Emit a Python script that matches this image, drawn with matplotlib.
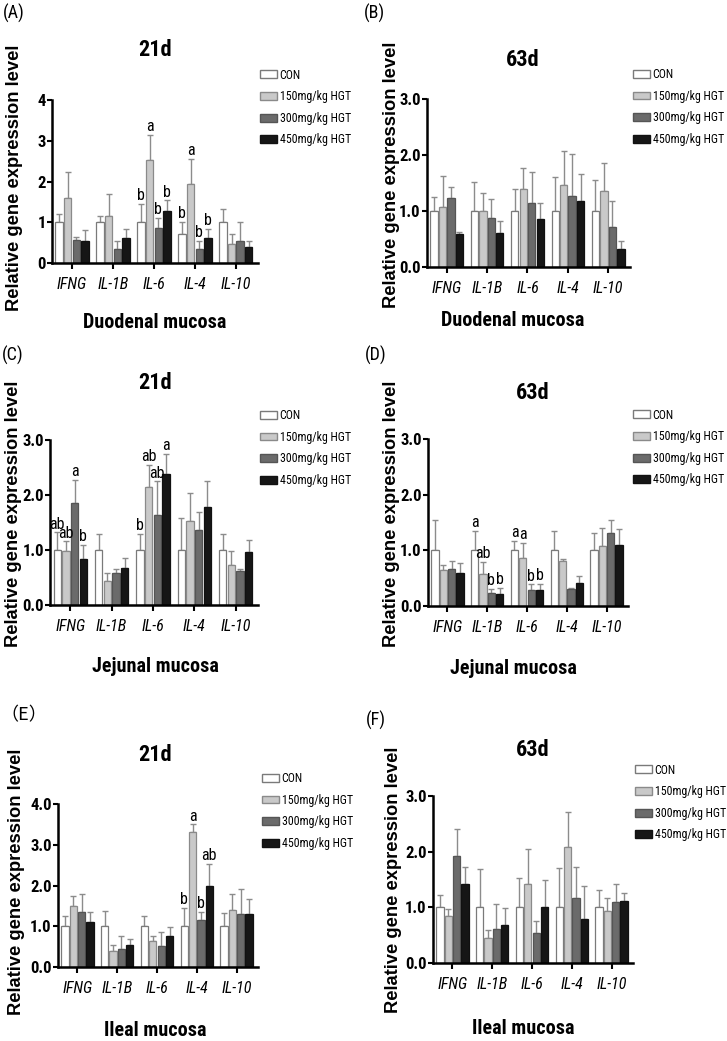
import matplotlib
matplotlib.use("Agg")
import matplotlib.pyplot as plt
from matplotlib import font_manager as fm
from matplotlib.patches import Patch
import numpy as np

W, H = 727, 1041

genes = ["IFNG", "IL-1B", "IL-6", "IL-4", "IL-10"]
groups = ["CON", "150mg/kg HGT", "300mg/kg HGT", "450mg/kg HGT"]

# rows = genes, cols = groups; *_top = top of the error bar
A_mean = [[1.00, 1.60, 0.57, 0.54], [1.00, 1.16, 0.35, 0.62], [1.00, 2.53, 0.85, 1.28],
          [0.72, 1.95, 0.35, 0.62], [1.00, 0.47, 0.55, 0.39]]
A_top = [[1.21, 2.23, 0.64, 0.81], [1.16, 1.69, 0.54, 0.83], [1.45, 3.15, 1.10, 1.54],
         [1.01, 2.55, 0.54, 0.83], [1.32, 0.72, 1.01, 0.53]]
A_letters = {2: ["b", "a", "b", "b"], 3: ["b", "a", "b", "b"]}

B_mean = [[1.00, 1.08, 1.23, 0.59], [1.00, 1.00, 0.88, 0.61], [1.00, 1.39, 1.15, 0.85],
          [1.00, 1.46, 1.26, 1.17], [1.00, 1.35, 0.71, 0.33]]
B_top = [[1.25, 1.63, 1.43, 0.63], [1.51, 1.33, 1.21, 0.82], [1.40, 1.76, 1.69, 1.14],
         [1.60, 2.08, 2.01, 1.66], [1.56, 1.85, 1.17, 0.47]]
B_letters = {}

C_mean = [[1.00, 0.98, 1.85, 0.83], [1.00, 0.44, 0.59, 0.67], [1.00, 2.14, 1.63, 2.38],
          [1.00, 1.53, 1.36, 1.78], [1.00, 0.72, 0.62, 0.96]]
C_top = [[1.32, 1.16, 2.27, 1.09], [1.29, 0.59, 0.65, 0.85], [1.30, 2.55, 2.25, 2.75],
         [1.58, 2.03, 1.69, 2.25], [1.30, 0.99, 0.65, 1.18]]
C_letters = {0: ["ab", "ab", "a", "b"], 2: ["b", "ab", "ab", "a"]}

D_mean = [[1.00, 0.64, 0.66, 0.60], [1.00, 0.58, 0.23, 0.22], [1.00, 0.87, 0.28, 0.28],
          [1.00, 0.81, 0.30, 0.42], [1.00, 1.08, 1.31, 1.10]]
D_top = [[1.55, 0.73, 0.80, 0.78], [1.35, 0.79, 0.31, 0.33], [1.17, 1.13, 0.39, 0.40],
         [1.35, 0.85, 0.33, 0.54], [1.32, 1.41, 1.55, 1.38]]
D_letters = {1: ["a", "ab", "b", "b"], 2: ["a", "a", "b", "b"]}

E_mean = [[1.00, 1.50, 1.36, 1.11], [1.00, 0.40, 0.43, 0.55], [1.00, 0.64, 0.52, 0.77],
          [1.00, 3.31, 1.15, 1.98], [1.00, 1.39, 1.29, 1.31]]
E_top = [[1.24, 1.75, 1.79, 1.36], [1.38, 0.55, 0.76, 0.69], [1.25, 0.75, 0.87, 0.98],
         [1.45, 3.50, 1.35, 2.53], [1.33, 1.80, 1.91, 1.67]]
E_letters = {3: ["b", "a", "b", "ab"]}

F_mean = [[1.00, 0.85, 1.92, 1.42], [1.00, 0.45, 0.61, 0.68], [1.00, 1.42, 0.53, 1.00],
          [1.00, 2.08, 1.16, 0.79], [1.00, 0.94, 1.10, 1.11]]
F_top = [[1.23, 0.97, 2.40, 1.72], [1.68, 0.59, 1.06, 0.99], [1.53, 2.05, 0.75, 1.49],
         [1.71, 2.72, 1.73, 1.39], [1.31, 1.17, 1.42, 1.26]]
F_letters = {}

colors = ["#ffffff", "#c9c9c9", "#6b6b6b", "#161616"]
edges = ["#7a7a7a", "#8a8a8a", "#555555", "#111111"]


def pick_narrow():
    # look for some condensed face; fall back to Liberation Sans at smaller sizes
    entries = fm.fontManager.ttflist
    names = {f.name for f in entries}
    for name in ["Liberation Sans Narrow", "Arial Narrow", "Roboto Condensed", "Open Sans Condensed"]:
        if name in names:
            return {"family": [name, "DejaVu Sans"]}, 1.0
    for fam in ["DejaVu Sans", "Noto Sans", "Open Sans", "Roboto"]:
        if any(f.name == fam and "ondensed" in str(f.stretch) for f in entries):
            return {"family": [fam], "stretch": "condensed"}, 0.97
    return {"family": ["Liberation Sans", "DejaVu Sans"]}, 0.86


NARROW, SCALE = pick_narrow()
SANS = {"family": ["Liberation Sans", "DejaVu Sans"]}


def fx(x):
    return x / W


def fy(y):
    return 1 - y / H


# label, title, tissue, ymax, int ticks, data, axes box (left, right, top, bottom px),
# legend (x, y centre), title pos, xlabel pos, ylabel pos, panel label pos
panels = [
    ("(A)", "21d", "Duodenal mucosa", 4, True, A_mean, A_top, A_letters,
     (52, 258, 100, 263), (260, 107.5), (155, 50), (155, 322), (15, 178), (3, 13)),
    ("(B)", "63d", "Duodenal mucosa", 3, False, B_mean, B_top, B_letters,
     (427, 630, 99, 267), (633, 107), (523, 60), (513, 320), (391, 175), (364, 13)),
    ("(C)", "21d", "Jejunal mucosa", 3, False, C_mean, C_top, C_letters,
     (50, 258, 440, 605), (260, 448), (155, 383), (155, 667), (14, 514), (2, 355)),
    ("(D)", "63d", "Jejunal mucosa", 3, False, D_mean, D_top, D_letters,
     (428, 628, 439, 606), (633, 447.5), (533, 393), (513, 668), (391, 514), (365, 355)),
    ("（E）", "21d", "Ileal mucosa", 4, False, E_mean, E_top, E_letters,
     (58, 258, 804, 967), (262, 811), (155, 755), (155, 1030), (17, 882), (0, 715)),
    ("(F)", "63d", "Ileal mucosa", 3, False, F_mean, F_top, F_letters,
     (433, 633, 796, 963), (635, 802.5), (533, 750), (523, 1028), (393, 880), (366, 720)),
]

fig = plt.figure(figsize=(W / 100, H / 100), dpi=100)
fig.patch.set_facecolor("white")

handles = [Patch(facecolor=c, edgecolor=e, linewidth=1) for c, e in zip(colors, edges)]

for (plabel, title, tissue, ymax, int_ticks, mean, top, letters,
     box, leg, tpos, xlpos, ylpos, plpos) in panels:
    l, r, t, b = box
    ax = fig.add_axes([fx(l), fy(b), (r - l) / W, (b - t) / H])
    mean = np.array(mean)
    top = np.array(top)
    x = np.arange(len(genes))
    for j in range(len(groups)):
        xj = x + (j - 1.5) * 0.21
        ax.errorbar(xj, mean[:, j], yerr=[np.zeros(len(genes)), top[:, j] - mean[:, j]],
                    fmt="none", ecolor="#8c8c8c", elinewidth=1, capsize=2, capthick=1, zorder=1)
        ax.bar(xj, mean[:, j], width=0.18, color=colors[j], edgecolor=edges[j],
               linewidth=0.9, zorder=2)
        for gi, labs in letters.items():
            if labs[j]:
                ax.annotate(labs[j], (xj[gi], top[gi, j]), xytext=(0, 0.5),
                            textcoords="offset points", ha="center", va="bottom",
                            fontsize=11.5 * SCALE, **NARROW)
    ax.set_xlim(-0.49, 4.54)
    ax.set_ylim(0, ymax)
    ax.set_xticks(x)
    ax.set_xticklabels(genes, fontsize=11.5 * SCALE, style="italic", **NARROW)
    ax.set_yticks(np.arange(0, ymax + 1))
    if int_ticks:
        ax.set_yticklabels([str(v) for v in range(ymax + 1)])
    else:
        ax.set_yticklabels([f"{v:.1f}" for v in range(ymax + 1)])
    for lab in ax.get_yticklabels():
        lab.set_fontweight("bold")
        lab.set_fontsize(12 * SCALE)
        lab.set_family(NARROW["family"])
        if "stretch" in NARROW:
            lab.set_stretch(NARROW["stretch"])
    ax.tick_params(axis="both", direction="out", length=3.5, width=1.5, color="black", pad=1)
    ax.tick_params(axis="x", length=4, pad=6)
    for s in ["top", "right"]:
        ax.spines[s].set_visible(False)
    for s in ["left", "bottom"]:
        ax.spines[s].set_linewidth(1.8)
    ax.set_facecolor("none")

    prop = dict(NARROW)
    prop["size"] = 8.6
    ax.legend(handles, groups, loc="center left", bbox_to_anchor=(fx(leg[0]), fy(leg[1])),
              bbox_transform=fig.transFigure, frameon=False, borderpad=0, borderaxespad=0,
              handlelength=1.45, handleheight=0.65, handletextpad=0.2,
              labelspacing=0.72, prop=prop)

    fig.text(fx(tpos[0]), fy(tpos[1]), title, ha="center", va="center",
             fontsize=16 * SCALE, fontweight="bold", **NARROW)
    fig.text(fx(xlpos[0]), fy(xlpos[1]), tissue, ha="center", va="center",
             fontsize=14.5 * SCALE, fontweight="bold", **NARROW)
    fig.text(fx(ylpos[0]), fy(ylpos[1]), "Relative gene expression level", ha="center",
             va="center", rotation=90, fontsize=13.2, fontweight="bold", **SANS)
    if "（" in plabel:
        fig.text(fx(plpos[0]), fy(plpos[1]), plabel, ha="left", va="center",
                 fontsize=13, family=["Noto Sans CJK SC", "DejaVu Sans"])
    else:
        fig.text(fx(plpos[0]), fy(plpos[1]), plabel, ha="left", va="center",
                 fontsize=13 * SCALE, **NARROW)

fig.savefig("out.png", dpi=100, facecolor="white")
